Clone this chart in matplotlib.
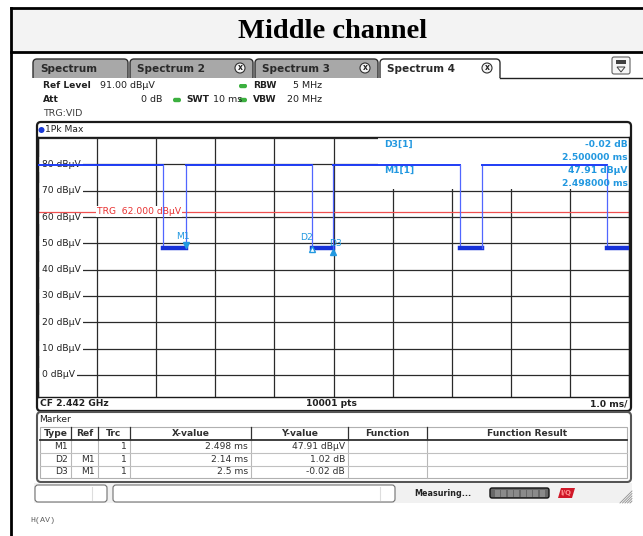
import matplotlib
matplotlib.use("Agg")
import matplotlib.pyplot as plt
from matplotlib.patches import Rectangle, FancyBboxPatch, Circle, Polygon

# ---- data ----
sweep_ms = 10.0
high_level = 79.8          # dBµV, burst on
low_level = 48.3           # dBµV, burst off
gap_starts = [2.12, 4.638, 7.14, 9.63]   # ms
gap_ends = [2.498, 4.998, 7.51, 10.0]    # ms
trg_level = 62.0
y_levels = [0, 10, 20, 30, 40, 50, 60, 70, 80]

m1_x, m1_y = 2.498, 47.91
delta_names = ["D2", "D3"]
delta_dx = [2.14, 2.5]     # ms from M1
delta_dy = [1.02, -0.02]   # dB from M1

tab_labels = ["Spectrum", "Spectrum 2", "Spectrum 3", "Spectrum 4"]
col_headers = ["Type", "Ref", "Trc", "X-value", "Y-value", "Function", "Function Result"]
row_type = ["M1", "D2", "D3"]
row_ref = ["", "M1", "M1"]
row_trc = ["1", "1", "1"]
row_x = ["2.498 ms", "2.14 ms", "2.5 ms"]
row_y = ["47.91 dBµV", "1.02 dB", "-0.02 dB"]

W, H = 643, 536
TRACE = "#1f3df5"
MK = "#2298e0"
FONT = "DejaVu Sans"

fig = plt.figure(figsize=(W / 100, H / 100), dpi=100)
bg = fig.add_axes([0, 0, 1, 1])
bg.set_xlim(0, W)
bg.set_ylim(H, 0)
bg.axis("off")


def txt(x, y, s, size=6.8, weight="normal", ha="left", color="#202020", **kw):
    bg.text(x, y, s, fontsize=size, fontweight=weight, ha=ha, va="center",
            color=color, family=FONT, **kw)


# document table frame + title cell
bg.add_patch(Rectangle((11, 8), W, 44, facecolor="#f3f3f3", edgecolor="none"))
bg.plot([11, W], [8, 8], color="black", lw=2)
bg.plot([11, W], [52, 52], color="black", lw=2)
bg.plot([11, 11], [8, H], color="black", lw=2)
bg.text(333, 31, "Middle channel", fontsize=20.5, fontweight="bold",
        family="Liberation Serif", ha="center", va="center")

# tabs
tab_x = [(33, 128), (130, 253), (255, 378), (380, 500)]
for i, (lab, (x0, x1)) in enumerate(zip(tab_labels, tab_x)):
    active = i == len(tab_labels) - 1
    bg.add_patch(FancyBboxPatch((x0, 59), x1 - x0, 22,
                                boxstyle="round,pad=0,rounding_size=4",
                                facecolor="white" if active else "#a8a8a8",
                                edgecolor="#303030", lw=1, zorder=2))
    txt(x0 + 7, 69, lab, size=7.6, weight="bold", color="#2a2a2a", zorder=3)
    if i > 0:
        bg.add_patch(Circle((x1 - 13, 68), 5, facecolor="#f4f4f4",
                            edgecolor="#303030", lw=0.8, zorder=3))
        txt(x1 - 13, 68, "x", size=5.5, ha="center", weight="bold", zorder=4)
bg.add_patch(Rectangle((30, 78), 610, 6, facecolor="white", edgecolor="none", zorder=2.5))
bg.plot([500, W], [78, 78], color="#202020", lw=1, zorder=3)
bg.add_patch(FancyBboxPatch((612, 57), 18, 17, boxstyle="round,pad=0,rounding_size=2",
                            facecolor="#f6f6f6", edgecolor="#606060", lw=0.8, zorder=3))
bg.add_patch(Rectangle((616, 60), 10, 4, facecolor="#404040", zorder=4))
bg.add_patch(Polygon([[617, 67], [625, 67], [621, 72]], closed=True, facecolor="none",
                     edgecolor="#404040", lw=0.7, zorder=4))

# settings block
txt(43, 86, "Ref Level", weight="bold", size=6.6)
txt(100, 86, "91.00 dBµV")
txt(43, 100, "Att", weight="bold", size=6.6)
txt(162, 100, "0 dB", ha="right")
for gx in (177, 243):
    for gy in (86, 100):
        if gx == 177 and gy == 86:
            continue
        bg.add_patch(FancyBboxPatch((gx - 4, gy - 2.2), 8, 4.4,
                                    boxstyle="round,pad=0,rounding_size=2",
                                    facecolor="#3cb040", edgecolor="none"))
txt(186, 100, "SWT", weight="bold", size=6.6)
txt(213, 100, "10 ms")
txt(253, 86, "RBW", weight="bold", size=6.6)
txt(322, 86, "5 MHz", ha="right")
txt(253, 100, "VBW", weight="bold", size=6.6)
txt(322, 100, "20 MHz", ha="right")
txt(43, 114, "TRG:VID", color="#404040")

# diagram frame
bg.add_patch(FancyBboxPatch((37, 122), 594, 289, boxstyle="round,pad=0,rounding_size=4",
                            facecolor="white", edgecolor="#1a1a1a", lw=1.6))
bg.add_patch(Circle((41.5, 130), 3, facecolor="#1a3ad8", edgecolor="none"))
txt(45, 130, "1Pk Max", size=6.6)
txt(40, 404, "CF 2.442 GHz", weight="bold", size=6.6)
txt(331, 404, "10001 pts", weight="bold", size=6.6, ha="center")
txt(627, 404, "1.0 ms/", weight="bold", size=6.6, ha="right")

# ---- trace diagram ----
ax = fig.add_axes([38 / W, 1 - 397 / H, (629 - 38) / W, (397 - 137) / H])
ax.set_xlim(0, sweep_ms)
ax.set_ylim(-8.4, 90.4)
ax.set_xticks(range(11))
ax.set_yticks(range(0, 91, 10))
ax.grid(True, color="#2a2a2a", lw=0.9)
ax.set_axisbelow(True)
ax.tick_params(length=0, labelleft=False, labelbottom=False)
for sp in ax.spines.values():
    sp.set_color("#1a1a1a")
    sp.set_linewidth(1)

for lv in y_levels:
    ax.text(0.06, lv, f"{lv} dBµV", fontsize=6.6, family=FONT, color="#202020",
            ha="left", va="center", zorder=2,
            bbox=dict(facecolor="white", edgecolor="none", pad=2.0))

# marker readout box covers the grid
ax.add_patch(Rectangle((5.75, 70.6), 4.25, 21, facecolor="white", edgecolor="none", zorder=1.5))

ax.axhline(trg_level, color="#f05050", lw=0.9, zorder=2.2)
ax.text(1.0, trg_level, "TRG  62.000 dBµV", fontsize=6.6, family=FONT, color="#e83030",
        ha="left", va="center", zorder=2.4,
        bbox=dict(facecolor="white", edgecolor="none", pad=0.6))

# trace: on segments, edges, and off segments
t = 0.0
for s, e in zip(gap_starts, gap_ends):
    ax.plot([t, s], [high_level, high_level], color=TRACE, lw=1.4, zorder=3)
    ax.plot([s, s], [high_level, low_level], color="#5066ff", lw=0.9, zorder=3)
    ax.plot([s, e], [low_level, low_level], color="#1530d8", lw=3.2, zorder=3)
    if e < sweep_ms:
        ax.plot([e, e], [low_level, high_level], color="#5066ff", lw=0.9, zorder=3)
    t = e
if t < sweep_ms:
    ax.plot([t, sweep_ms], [high_level, high_level], color=TRACE, lw=1.4, zorder=3)

# markers
ax.plot(m1_x, m1_y + 1.6, marker="v", ms=5, color=MK, zorder=4)
ax.text(m1_x - 0.05, m1_y + 4.6, "M1", fontsize=6.6, family=FONT, color=MK,
        ha="center", va="center", zorder=4)
label_off = [(-0.1, 3.4), (0.03, 2.0)]
for i, (nm, dx, dy) in enumerate(zip(delta_names, delta_dx, delta_dy)):
    mx, my = m1_x + dx, m1_y + dy
    ax.plot(mx, my - 1.2, marker="^", ms=5, color=MK, zorder=4,
            markerfacecolor=MK if i else "white")
    ax.text(mx + label_off[i][0], my + label_off[i][1], nm, fontsize=6.6,
            family=FONT, color=MK, ha="center", va="center", zorder=4)

read_lines = [("D3[1]", "-0.02 dB"), ("", "2.500000 ms"),
              ("M1[1]", "47.91 dBµV"), ("", "2.498000 ms")]
for k, (lft, rgt) in enumerate(read_lines):
    yy = 87.5 - k * 4.9
    if lft:
        ax.text(5.85, yy, lft, fontsize=6.6, family=FONT, color=MK, ha="left",
                va="center", zorder=4, fontweight="bold")
    ax.text(9.98, yy, rgt, fontsize=6.6, family=FONT, color=MK, ha="right",
            va="center", zorder=4, fontweight="bold")

# ---- marker table ----
bg.add_patch(FancyBboxPatch((37, 412), 594, 70, boxstyle="round,pad=0,rounding_size=4",
                            facecolor="white", edgecolor="#555555", lw=1.5))
txt(39, 420, "Marker", size=6.6)
cols = [40, 71, 98, 130, 251, 348, 427, 627]
rows = [427, 440, 453, 466, 478]
bg.add_patch(Rectangle((40, 427), 587, 51, facecolor="white", edgecolor="#b0b0b0", lw=0.8))
for c in cols[1:-1]:
    bg.plot([c, c], [427, 440], color="#303030", lw=0.9)
    bg.plot([c, c], [440, 478], color="#b8b8b8", lw=0.8)
bg.plot([40, 627], [440, 440], color="#303030", lw=1.3)
for r in rows[2:-1]:
    bg.plot([40, 627], [r, r], color="#c0c0c0", lw=0.8)
for j, hd in enumerate(col_headers):
    txt((cols[j] + cols[j + 1]) / 2, 434, hd, size=6.6, weight="bold", ha="center",
        color="#303030")
for i in range(len(row_type)):
    yc = (rows[i + 1] + rows[i + 2]) / 2
    for j, val in enumerate([row_type[i], row_ref[i], row_trc[i], row_x[i], row_y[i]]):
        if val:
            txt(cols[j + 1] - 3, yc, val, size=6.6, ha="right", color="#303030")

# status bar
bg.add_patch(Rectangle((34, 483), 598, 20, facecolor="#f1f1f1", edgecolor="none"))
for x0, x1, dv in [(35, 107, 92), (113, 395, 380)]:
    bg.add_patch(FancyBboxPatch((x0, 485), x1 - x0, 17, boxstyle="round,pad=0,rounding_size=3",
                                facecolor="white", edgecolor="#707070", lw=0.8))
    bg.plot([dv, dv], [487, 500], color="#dddddd", lw=0.8)
txt(414, 493, "Measuring...", size=5.8, weight="bold", color="#222222")
bg.add_patch(FancyBboxPatch((490, 488), 59, 10, boxstyle="round,pad=0,rounding_size=2",
                            facecolor="#686868", edgecolor="#111111", lw=1))
for k in range(8):
    bg.add_patch(Rectangle((495 + k * 6.4, 489.5), 5, 7, facecolor="#8a8a8a", edgecolor="none"))
bg.add_patch(Polygon([[558, 498], [561, 488], [575, 488], [572, 498]], closed=True,
                     facecolor="#d01828", edgecolor="none"))
txt(566, 493, "I/Q", size=5, weight="bold", ha="center", color="#ff9090")
for k in range(5):
    bg.plot([620 + k * 2.5, 632], [503, 491 + k * 2.5], color="#909090", lw=0.6)

bg.text(30, 521, "H(AV)", fontsize=6, family="Liberation Mono", color="#606060",
        ha="left", va="center")

fig.savefig("out.png", dpi=100)
